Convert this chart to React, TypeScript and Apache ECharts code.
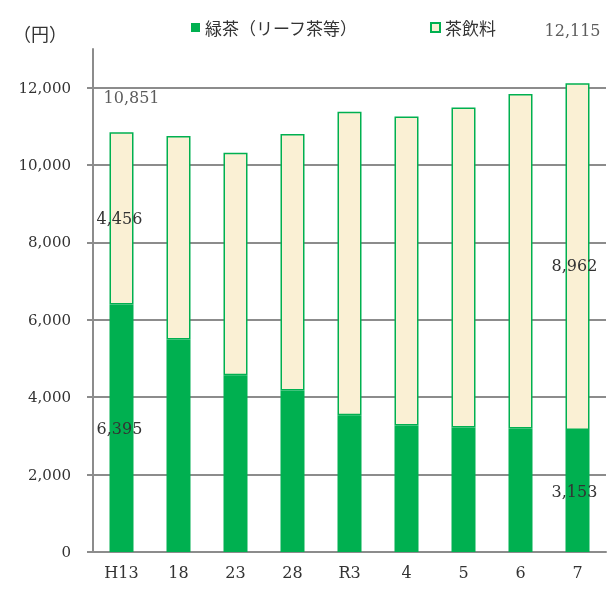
import React, { useEffect, useRef } from "react";
import * as echarts from "echarts";

const categories = ["H13", "18", "23", "28", "R3", "4", "5", "6", "7"];
const greenTea = [6395, 5490, 4570, 4175, 3535, 3270, 3220, 3190, 3153];
const teaDrinks = [4456, 5260, 5750, 6625, 7845, 7985, 8270, 8645, 8962];
const labeledIndices = [0, 8];
const yTicks = { min: 0, max: 13000, interval: 2000 };
const seriesNames = ["緑茶（リーフ茶等）", "茶飲料"];
const unitLabel = "（円）";

const NUM_FONT = "DejaVu Serif";
const CJK_FONT = "Noto Sans CJK JP";
const GRID_COLOR = "#8c8c8c";
const GREEN = "#00B050";
const CREAM = "#FAF0D4";

const fmt = (v: number) => v.toLocaleString("en-US");

export default function App() {
  const ref = useRef<HTMLDivElement>(null);
  useEffect(() => {
    if (!ref.current) return;
    const chart = echarts.init(ref.current, null, { renderer: "svg" });
    const totals = greenTea.map((g, i) => g + teaDrinks[i]);
    const labelBase = {
      color: "#333",
      fontFamily: NUM_FONT,
      fontSize: 16,
    };
    const greenOffsets: Record<number, number[]> = { 0: [-2, 0], 8: [-3, 0] };
    const teaOffsets: Record<number, number[]> = { 0: [-2, 0], 8: [-3, 9] };
    const totalOffsets: Record<number, number[]> = { 0: [10, -22], 8: [-5, -40] };

    chart.setOption({
      animation: false,
      title: {
        text: unitLabel,
        left: 8,
        top: 19,
        textStyle: { fontSize: 18, fontWeight: "normal", color: "#333", fontFamily: CJK_FONT },
      },
      legend: {
        data: seriesNames,
        left: 186,
        top: 14,
        itemWidth: 9,
        itemHeight: 9,
        itemGap: 72,
        icon: "rect",
        textStyle: { fontSize: 17, color: "#333", fontFamily: CJK_FONT },
      },
      grid: { left: 93, right: 2, top: 49, bottom: 44, containLabel: false },
      xAxis: {
        type: "category",
        data: categories,
        axisTick: { show: false },
        axisLine: { lineStyle: { color: GRID_COLOR, width: 2 } },
        axisLabel: { margin: 12, fontSize: 16, color: "#333", fontFamily: NUM_FONT },
      },
      yAxis: {
        type: "value",
        min: yTicks.min,
        max: yTicks.max,
        interval: yTicks.interval,
        axisLine: { show: true, lineStyle: { color: GRID_COLOR, width: 2 } },
        axisTick: { show: true, length: 6, lineStyle: { color: GRID_COLOR, width: 2 } },
        splitLine: { show: true, showMaxLine: false, lineStyle: { color: GRID_COLOR, width: 2 } },
        axisLabel: {
          margin: 22,
          fontSize: 15,
          color: "#333",
          fontFamily: NUM_FONT,
          showMaxLabel: false,
          formatter: (v: number) => fmt(v),
        },
      },
      series: [
        {
          name: seriesNames[0],
          type: "bar",
          stack: "total",
          barWidth: 24,
          itemStyle: { color: GREEN },
          data: greenTea.map((v, i) => ({
            value: v,
            label: labeledIndices.includes(i)
              ? { show: true, position: "inside", offset: greenOffsets[i], ...labelBase, formatter: () => fmt(v) }
              : { show: false },
          })),
        },
        {
          name: seriesNames[1],
          type: "bar",
          stack: "total",
          barWidth: 24,
          itemStyle: { color: CREAM, borderColor: GREEN, borderWidth: 1.5 },
          data: teaDrinks.map((v, i) => ({
            value: v,
            label: labeledIndices.includes(i)
              ? { show: true, position: "inside", offset: teaOffsets[i], ...labelBase, formatter: () => fmt(v) }
              : { show: false },
          })),
        },
        {
          name: "合計",
          type: "scatter",
          symbolSize: 0,
          silent: true,
          z: 10,
          data: totals.map((v, i) =>
            labeledIndices.includes(i)
              ? {
                  value: v,
                  label: {
                    show: true,
                    position: "top",
                    offset: totalOffsets[i],
                    ...labelBase,
                    formatter: () => fmt(v),
                  },
                }
              : "-"
          ),
        },
      ],
    });
    return () => chart.dispose();
  }, []);
  return (
    <div
      ref={ref}
      style={{ position: "fixed", left: 0, top: 0, width: 608, height: 596 }}
    />
  );
}
